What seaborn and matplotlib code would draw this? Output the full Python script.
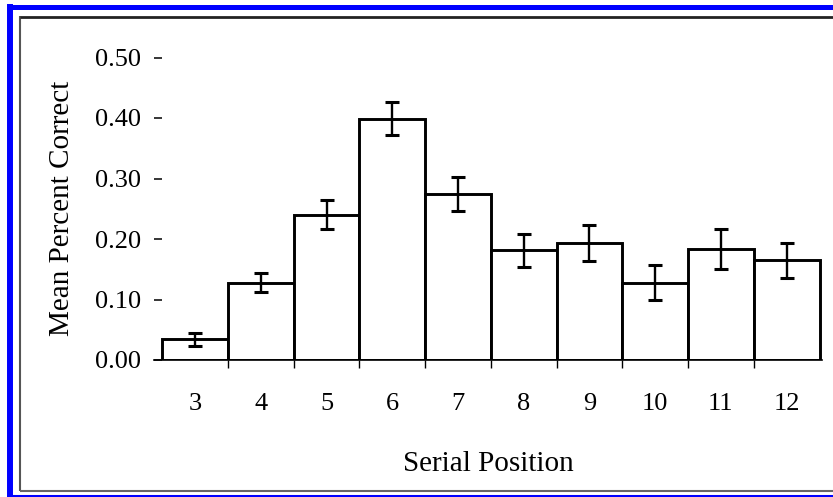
import numpy as np
import pandas as pd
import matplotlib
matplotlib.use("Agg")
import matplotlib.pyplot as plt
from matplotlib.lines import Line2D
import seaborn as sns

# ---- data ----
positions = ["3", "4", "5", "6", "7", "8", "9", "10", "11", "12"]
mean_correct = [0.034, 0.128, 0.240, 0.399, 0.274, 0.181, 0.193, 0.128, 0.183, 0.165]
errors = [0.011, 0.015, 0.024, 0.027, 0.028, 0.027, 0.030, 0.029, 0.033, 0.029]
yticks = [0.00, 0.10, 0.20, 0.30, 0.40, 0.50]
ytick_labels = ["0.00", "0.10", "0.20", "0.30", "0.40", "0.50"]

sns.set_style("white")
plt.rcParams["font.family"] = ["Liberation Serif", "DejaVu Serif"]
plt.rcParams["text.color"] = "black"
plt.rcParams["axes.labelcolor"] = "black"
plt.rcParams["xtick.color"] = "black"
plt.rcParams["ytick.color"] = "black"

W, H = 833, 497
fig = plt.figure(figsize=(W / 100, H / 100), dpi=100)

def fx(px):
    return px / W

def fy(py):
    return 1 - py / H

ax_left, ax_right, ax_top, ax_bottom = 154, 822, 57.5, 360
ax = fig.add_axes([fx(ax_left), fy(ax_bottom), fx(ax_right - ax_left), (ax_bottom - ax_top) / H])

df = pd.DataFrame({"pos": positions, "val": mean_correct})
sns.barplot(data=df, x="pos", y="val", order=positions, width=1.0, color="white",
            saturation=1, edgecolor="black", linewidth=2.1, errorbar=None, ax=ax)
xs = np.arange(len(positions))
ax.errorbar(xs, mean_correct, yerr=errors, fmt="none", ecolor="black",
            elinewidth=1.7, capsize=5, capthick=2.2, zorder=5)

scale = (819.5 - 162.3) / 10.0
ax.set_xlim(-0.5 - (162.3 - ax_left) / scale, 9.5 + (ax_right - 819.5) / scale)
ax.set_ylim(0, 0.5)

for s in ["top", "right", "left"]:
    ax.spines[s].set_visible(False)
ax.spines["bottom"].set_linewidth(1.2)
ax.spines["bottom"].set_color("black")

ax.set_yticks(yticks)
ax.set_yticklabels(ytick_labels)
ax.tick_params(axis="y", direction="in", length=5.5, width=1.1, pad=9, labelsize=19, left=True)
ax.set_xticks(xs)
ax.set_xticklabels(positions)
ax.tick_params(axis="x", which="major", length=0, pad=24, labelsize=19)
ax.set_xticks(np.arange(0.5, 9.0, 1.0), minor=True)
ax.tick_params(axis="x", which="minor", direction="out", length=5.5, width=1.0, bottom=True)

ax.set_xlabel("Serial Position", fontsize=21, labelpad=26)
ax.set_ylabel("Mean Percent Correct", fontsize=21)
ax.yaxis.set_label_coords((75 - ax_left) / (ax_right - ax_left), 0.5)

# frame lines
blue = "#0000ff"
kw = dict(transform=fig.transFigure, solid_capstyle="butt")
fig.add_artist(Line2D([fx(10), fx(10)], [fy(4), fy(497)], color=blue, lw=4.3, **kw))
fig.add_artist(Line2D([fx(7), fx(833)], [fy(6.5), fy(6.5)], color=blue, lw=3.6, **kw))
fig.add_artist(Line2D([fx(7), fx(833)], [fy(496), fy(496)], color=blue, lw=2.2, **kw))
fig.add_artist(Line2D([fx(20), fx(20)], [fy(16), fy(491)], color="#555555", lw=1.5, **kw))
fig.add_artist(Line2D([fx(20), fx(833)], [fy(16.5), fy(16.5)], color="#222222", lw=2.0, **kw))
fig.add_artist(Line2D([fx(20), fx(833)], [fy(491), fy(491)], color="#666666", lw=1.5, **kw))

fig.savefig("out.png", dpi=100)
